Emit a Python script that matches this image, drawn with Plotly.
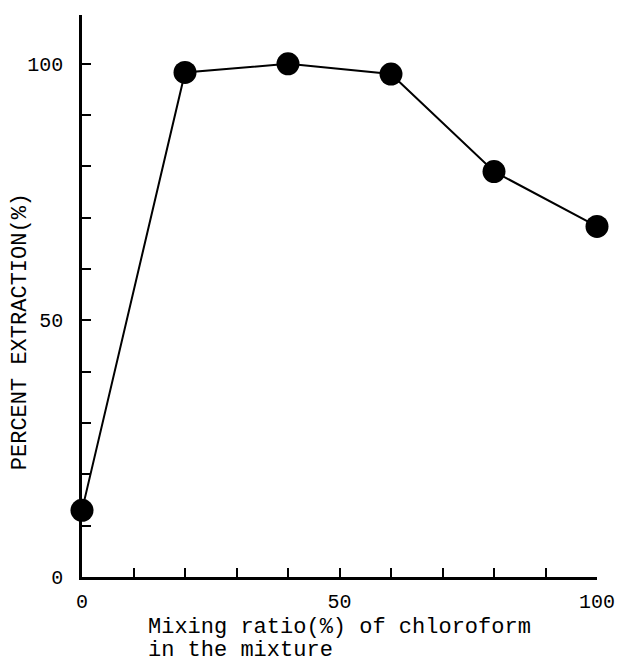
import plotly.graph_objects as go

ratio = [0, 20, 40, 60, 80, 100]
extraction = [13, 98.3, 100, 98, 79, 68.3]
x_ticks = [0, 50, 100]
y_ticks = [0, 50, 100]

FONT = "Liberation Mono"

fig = go.Figure()
fig.add_trace(go.Scatter(
    x=ratio, y=extraction, mode="lines+markers",
    line=dict(color="black", width=2),
    marker=dict(color="black", size=23),
    cliponaxis=False, showlegend=False,
))

fig.update_layout(
    width=619, height=664,
    margin=dict(l=82, r=22, t=15, b=87, autoexpand=False),
    paper_bgcolor="white", plot_bgcolor="white",
    font=dict(family=FONT, size=20, color="black"),
    xaxis=dict(
        range=[0, 100], showgrid=False, zeroline=False, automargin=False,
        showline=True, linecolor="black", linewidth=2.5,
        tickvals=x_ticks, ticktext=[str(v) for v in x_ticks],
        ticks="inside", ticklen=9, tickwidth=2, tickcolor="black",
        ticklabelstandoff=4,
        minor=dict(dtick=10, ticks="inside", ticklen=9, tickwidth=2, tickcolor="black"),
    ),
    yaxis=dict(
        range=[0, 109.5], showgrid=False, zeroline=False, automargin=False,
        showline=True, linecolor="black", linewidth=2.5,
        tickvals=y_ticks, ticktext=[str(v) for v in y_ticks],
        ticks="inside", ticklen=9, tickwidth=2, tickcolor="black",
        ticklabelstandoff=12,
        minor=dict(dtick=10, ticks="inside", ticklen=9, tickwidth=2, tickcolor="black"),
    ),
    annotations=[
        dict(text="PERCENT EXTRACTION(%)", textangle=-90,
             xref="paper", yref="paper", x=-0.118, y=0.436,
             xanchor="center", yanchor="middle", showarrow=False,
             font=dict(family=FONT, size=22)),
        dict(text="Mixing ratio(%) of chloroform",
             xref="paper", yref="paper", x=0.124, y=-0.0907,
             xanchor="left", yanchor="middle", align="left", showarrow=False,
             font=dict(family=FONT, size=22)),
        dict(text="in the mixture",
             xref="paper", yref="paper", x=0.124, y=-0.130,
             xanchor="left", yanchor="middle", align="left", showarrow=False,
             font=dict(family=FONT, size=22)),
    ],
)

fig.write_html("out.html")
